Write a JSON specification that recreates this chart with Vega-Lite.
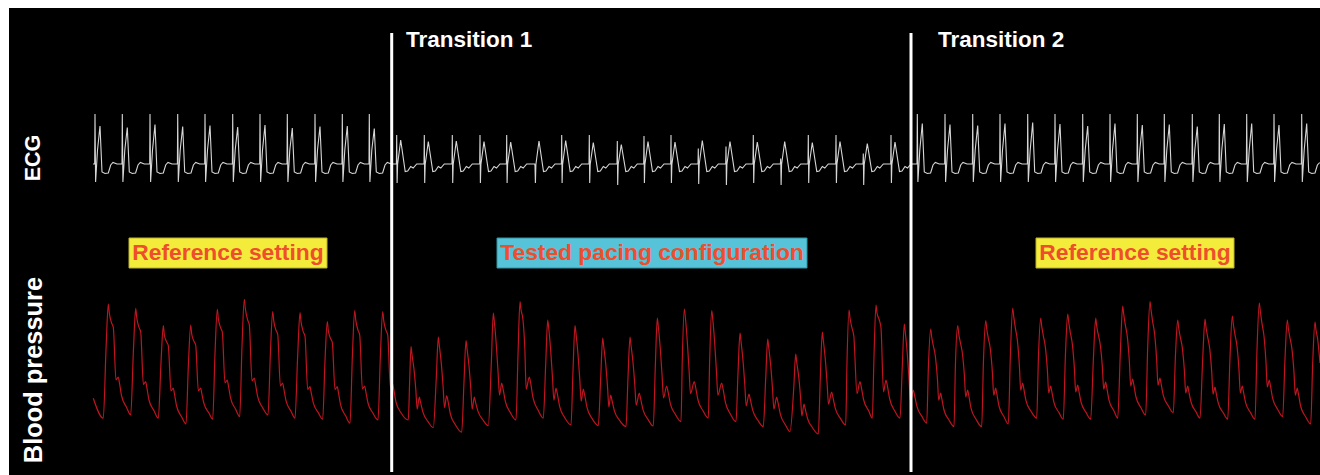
{
"$schema": "https://vega.github.io/schema/vega-lite/v6.json",
"width": 1311, "height": 467,
"autosize": {"type": "none"},
"padding": {"left": 9, "top": 8, "right": 0, "bottom": 0},
"background": "#ffffff",
"config": {"view": {"fill": "#000000", "stroke": null}, "text": {"font": "Liberation Sans"}},
"resolve": {"scale": {"y": "independent"}},
"layer": [
{
"data": {"values": [
{"t":930,"mV":-0.01},
{"t":947,"mV":-0.01},{"t":950,"mV":0.99},{"t":956,"mV":-0.37},{"t":975,"mV":0.27},{"t":1000,"mV":0.75},{"t":1020,"mV":-0.17},{"t":1050,"mV":-0.2},{"t":1083,"mV":-0.19},{"t":1107,"mV":-0.03},{"t":1130,"mV":0.02},{"t":1170,"mV":-0.01},
{"t":1220,"mV":-0.01},{"t":1223,"mV":0.99},{"t":1229,"mV":-0.37},{"t":1248,"mV":0.27},{"t":1273,"mV":0.72},{"t":1293,"mV":-0.17},{"t":1323,"mV":-0.2},{"t":1356,"mV":-0.19},{"t":1380,"mV":-0.03},{"t":1403,"mV":0.02},{"t":1443,"mV":-0.01},
{"t":1497,"mV":-0.01},{"t":1500,"mV":0.99},{"t":1506,"mV":-0.37},{"t":1525,"mV":0.27},{"t":1550,"mV":0.78},{"t":1570,"mV":-0.17},{"t":1600,"mV":-0.2},{"t":1633,"mV":-0.19},{"t":1657,"mV":-0.03},{"t":1680,"mV":0.02},{"t":1720,"mV":-0.01},
{"t":1774,"mV":-0.01},{"t":1777,"mV":0.99},{"t":1783,"mV":-0.37},{"t":1802,"mV":0.27},{"t":1827,"mV":0.74},{"t":1847,"mV":-0.17},{"t":1877,"mV":-0.2},{"t":1910,"mV":-0.19},{"t":1934,"mV":-0.03},{"t":1957,"mV":0.02},{"t":1997,"mV":-0.01},
{"t":2047,"mV":-0.01},{"t":2050,"mV":0.99},{"t":2056,"mV":-0.37},{"t":2075,"mV":0.27},{"t":2100,"mV":0.76},{"t":2120,"mV":-0.17},{"t":2150,"mV":-0.2},{"t":2183,"mV":-0.19},{"t":2207,"mV":-0.03},{"t":2230,"mV":0.02},{"t":2270,"mV":-0.01},
{"t":2324,"mV":-0.01},{"t":2327,"mV":0.99},{"t":2333,"mV":-0.37},{"t":2352,"mV":0.27},{"t":2377,"mV":0.73},{"t":2397,"mV":-0.17},{"t":2427,"mV":-0.2},{"t":2460,"mV":-0.19},{"t":2484,"mV":-0.03},{"t":2507,"mV":0.02},{"t":2547,"mV":-0.01},
{"t":2597,"mV":-0.01},{"t":2600,"mV":0.99},{"t":2606,"mV":-0.37},{"t":2625,"mV":0.27},{"t":2650,"mV":0.77},{"t":2670,"mV":-0.17},{"t":2700,"mV":-0.2},{"t":2733,"mV":-0.19},{"t":2757,"mV":-0.03},{"t":2780,"mV":0.02},{"t":2820,"mV":-0.01},
{"t":2870,"mV":-0.01},{"t":2873,"mV":0.99},{"t":2879,"mV":-0.37},{"t":2898,"mV":0.27},{"t":2923,"mV":0.71},{"t":2943,"mV":-0.17},{"t":2973,"mV":-0.2},{"t":3006,"mV":-0.19},{"t":3030,"mV":-0.03},{"t":3053,"mV":0.02},{"t":3093,"mV":-0.01},
{"t":3147,"mV":-0.01},{"t":3150,"mV":0.99},{"t":3156,"mV":-0.37},{"t":3175,"mV":0.27},{"t":3200,"mV":0.74},{"t":3220,"mV":-0.17},{"t":3250,"mV":-0.2},{"t":3283,"mV":-0.19},{"t":3307,"mV":-0.03},{"t":3330,"mV":0.02},{"t":3370,"mV":-0.01},
{"t":3420,"mV":-0.01},{"t":3423,"mV":0.99},{"t":3429,"mV":-0.37},{"t":3448,"mV":0.27},{"t":3473,"mV":0.75},{"t":3493,"mV":-0.17},{"t":3523,"mV":-0.2},{"t":3556,"mV":-0.19},{"t":3580,"mV":-0.03},{"t":3603,"mV":0.02},{"t":3643,"mV":-0.01},
{"t":3690,"mV":-0.01},{"t":3693,"mV":0.99},{"t":3699,"mV":-0.37},{"t":3718,"mV":0.27},{"t":3743,"mV":0.7},{"t":3763,"mV":-0.17},{"t":3793,"mV":-0.2},{"t":3826,"mV":-0.19},{"t":3850,"mV":-0.03},{"t":3873,"mV":0.02},{"t":3913,"mV":-0.01},
{"t":3964,"mV":-0.01},{"t":3967,"mV":0.57},{"t":3971,"mV":-0.39},{"t":3976,"mV":-0.02},{"t":4007,"mV":0.47},{"t":4052,"mV":-0.16},{"t":4077,"mV":-0.15},{"t":4107,"mV":-0.06},{"t":4132,"mV":-0.09},{"t":4167,"mV":-0.01},
{"t":4240,"mV":-0.01},{"t":4243,"mV":0.57},{"t":4247,"mV":-0.39},{"t":4252,"mV":-0.02},{"t":4283,"mV":0.44},{"t":4328,"mV":-0.16},{"t":4353,"mV":-0.15},{"t":4383,"mV":-0.06},{"t":4408,"mV":-0.09},{"t":4443,"mV":-0.01},
{"t":4520,"mV":-0.01},{"t":4523,"mV":0.57},{"t":4527,"mV":-0.39},{"t":4532,"mV":-0.02},{"t":4563,"mV":0.45},{"t":4608,"mV":-0.16},{"t":4633,"mV":-0.15},{"t":4663,"mV":-0.06},{"t":4688,"mV":-0.09},{"t":4723,"mV":-0.01},
{"t":4797,"mV":-0.01},{"t":4800,"mV":0.57},{"t":4804,"mV":-0.39},{"t":4809,"mV":-0.02},{"t":4840,"mV":0.44},{"t":4885,"mV":-0.16},{"t":4910,"mV":-0.15},{"t":4940,"mV":-0.06},{"t":4965,"mV":-0.09},{"t":5000,"mV":-0.01},
{"t":5064,"mV":-0.01},{"t":5067,"mV":0.57},{"t":5071,"mV":-0.39},{"t":5076,"mV":-0.02},{"t":5107,"mV":0.43},{"t":5152,"mV":-0.16},{"t":5177,"mV":-0.15},{"t":5207,"mV":-0.06},{"t":5232,"mV":-0.09},{"t":5267,"mV":-0.01},
{"t":5347,"mV":-0.01},{"t":5350,"mV":-0.05},{"t":5354,"mV":-0.39},{"t":5359,"mV":-0.02},{"t":5390,"mV":0.45},{"t":5435,"mV":-0.16},{"t":5460,"mV":-0.15},{"t":5490,"mV":-0.06},{"t":5515,"mV":-0.09},{"t":5550,"mV":-0.01},
{"t":5614,"mV":-0.01},{"t":5617,"mV":0.57},{"t":5621,"mV":-0.39},{"t":5626,"mV":-0.02},{"t":5657,"mV":0.46},{"t":5702,"mV":-0.16},{"t":5727,"mV":-0.15},{"t":5757,"mV":-0.06},{"t":5782,"mV":-0.09},{"t":5817,"mV":-0.01},
{"t":5890,"mV":-0.01},{"t":5893,"mV":0.57},{"t":5897,"mV":-0.39},{"t":5902,"mV":-0.02},{"t":5933,"mV":0.42},{"t":5978,"mV":-0.16},{"t":6003,"mV":-0.15},{"t":6033,"mV":-0.06},{"t":6058,"mV":-0.09},{"t":6093,"mV":-0.01},
{"t":6170,"mV":-0.01},{"t":6173,"mV":0.45},{"t":6177,"mV":-0.43},{"t":6182,"mV":-0.02},{"t":6213,"mV":0.38},{"t":6258,"mV":-0.16},{"t":6283,"mV":-0.15},{"t":6313,"mV":-0.06},{"t":6338,"mV":-0.09},{"t":6373,"mV":-0.01},
{"t":6437,"mV":-0.01},{"t":6440,"mV":0.55},{"t":6444,"mV":-0.39},{"t":6449,"mV":-0.02},{"t":6480,"mV":0.44},{"t":6525,"mV":-0.16},{"t":6550,"mV":-0.15},{"t":6580,"mV":-0.06},{"t":6605,"mV":-0.09},{"t":6640,"mV":-0.01},
{"t":6707,"mV":-0.01},{"t":6710,"mV":0.57},{"t":6714,"mV":-0.39},{"t":6719,"mV":-0.02},{"t":6750,"mV":0.43},{"t":6795,"mV":-0.16},{"t":6820,"mV":-0.15},{"t":6850,"mV":-0.06},{"t":6875,"mV":-0.09},{"t":6910,"mV":-0.01},
{"t":6980,"mV":-0.01},{"t":6983,"mV":0.3},{"t":6987,"mV":-0.41},{"t":6992,"mV":-0.02},{"t":7023,"mV":0.46},{"t":7068,"mV":-0.16},{"t":7093,"mV":-0.15},{"t":7123,"mV":-0.06},{"t":7148,"mV":-0.09},{"t":7183,"mV":-0.01},
{"t":7257,"mV":-0.01},{"t":7260,"mV":0.34},{"t":7264,"mV":-0.43},{"t":7269,"mV":-0.02},{"t":7300,"mV":0.44},{"t":7345,"mV":-0.16},{"t":7370,"mV":-0.15},{"t":7400,"mV":-0.06},{"t":7425,"mV":-0.09},{"t":7460,"mV":-0.01},
{"t":7530,"mV":-0.01},{"t":7533,"mV":0.57},{"t":7537,"mV":-0.39},{"t":7542,"mV":-0.02},{"t":7573,"mV":0.43},{"t":7618,"mV":-0.16},{"t":7643,"mV":-0.15},{"t":7673,"mV":-0.06},{"t":7698,"mV":-0.09},{"t":7733,"mV":-0.01},
{"t":7804,"mV":-0.01},{"t":7807,"mV":0.1},{"t":7811,"mV":-0.43},{"t":7816,"mV":-0.02},{"t":7847,"mV":0.44},{"t":7892,"mV":-0.16},{"t":7917,"mV":-0.15},{"t":7947,"mV":-0.06},{"t":7972,"mV":-0.09},{"t":8007,"mV":-0.01},
{"t":8080,"mV":-0.01},{"t":8083,"mV":0.57},{"t":8087,"mV":-0.39},{"t":8092,"mV":-0.02},{"t":8123,"mV":0.42},{"t":8168,"mV":-0.16},{"t":8193,"mV":-0.15},{"t":8223,"mV":-0.06},{"t":8248,"mV":-0.09},{"t":8283,"mV":-0.01},
{"t":8357,"mV":-0.01},{"t":8360,"mV":0.57},{"t":8364,"mV":-0.39},{"t":8369,"mV":-0.02},{"t":8400,"mV":0.44},{"t":8445,"mV":-0.16},{"t":8470,"mV":-0.15},{"t":8500,"mV":-0.06},{"t":8525,"mV":-0.09},{"t":8560,"mV":-0.01},
{"t":8630,"mV":-0.01},{"t":8633,"mV":0.2},{"t":8637,"mV":-0.43},{"t":8642,"mV":-0.02},{"t":8673,"mV":0.4},{"t":8718,"mV":-0.16},{"t":8743,"mV":-0.15},{"t":8773,"mV":-0.06},{"t":8798,"mV":-0.09},{"t":8833,"mV":-0.01},
{"t":8907,"mV":-0.01},{"t":8910,"mV":0.57},{"t":8914,"mV":-0.39},{"t":8919,"mV":-0.02},{"t":8950,"mV":0.43},{"t":8995,"mV":-0.16},{"t":9020,"mV":-0.15},{"t":9050,"mV":-0.06},{"t":9075,"mV":-0.09},{"t":9110,"mV":-0.01},
{"t":9170,"mV":-0.01},{"t":9173,"mV":0.99},{"t":9179,"mV":-0.37},{"t":9198,"mV":0.27},{"t":9223,"mV":0.8},{"t":9243,"mV":-0.17},{"t":9273,"mV":-0.2},{"t":9306,"mV":-0.19},{"t":9330,"mV":-0.03},{"t":9353,"mV":0.02},{"t":9393,"mV":-0.01},
{"t":9447,"mV":-0.01},{"t":9450,"mV":0.99},{"t":9456,"mV":-0.37},{"t":9475,"mV":0.27},{"t":9500,"mV":0.78},{"t":9520,"mV":-0.17},{"t":9550,"mV":-0.2},{"t":9583,"mV":-0.19},{"t":9607,"mV":-0.03},{"t":9630,"mV":0.02},{"t":9670,"mV":-0.01},
{"t":9724,"mV":-0.01},{"t":9727,"mV":0.99},{"t":9733,"mV":-0.37},{"t":9752,"mV":0.27},{"t":9777,"mV":0.76},{"t":9797,"mV":-0.17},{"t":9827,"mV":-0.2},{"t":9860,"mV":-0.19},{"t":9884,"mV":-0.03},{"t":9907,"mV":0.02},{"t":9947,"mV":-0.01},
{"t":9997,"mV":-0.01},{"t":10000,"mV":0.99},{"t":10006,"mV":-0.37},{"t":10025,"mV":0.27},{"t":10050,"mV":0.8},{"t":10070,"mV":-0.17},{"t":10100,"mV":-0.2},{"t":10133,"mV":-0.19},{"t":10157,"mV":-0.03},{"t":10180,"mV":0.02},{"t":10220,"mV":-0.01},
{"t":10274,"mV":-0.01},{"t":10277,"mV":0.99},{"t":10283,"mV":-0.37},{"t":10302,"mV":0.27},{"t":10327,"mV":0.82},{"t":10347,"mV":-0.17},{"t":10377,"mV":-0.2},{"t":10410,"mV":-0.19},{"t":10434,"mV":-0.03},{"t":10457,"mV":0.02},{"t":10497,"mV":-0.01},
{"t":10547,"mV":-0.01},{"t":10550,"mV":0.99},{"t":10556,"mV":-0.37},{"t":10575,"mV":0.27},{"t":10600,"mV":0.79},{"t":10620,"mV":-0.17},{"t":10650,"mV":-0.2},{"t":10683,"mV":-0.19},{"t":10707,"mV":-0.03},{"t":10730,"mV":0.02},{"t":10770,"mV":-0.01},
{"t":10824,"mV":-0.01},{"t":10827,"mV":0.99},{"t":10833,"mV":-0.37},{"t":10852,"mV":0.27},{"t":10877,"mV":0.75},{"t":10897,"mV":-0.17},{"t":10927,"mV":-0.2},{"t":10960,"mV":-0.19},{"t":10984,"mV":-0.03},{"t":11007,"mV":0.02},{"t":11047,"mV":-0.01},
{"t":11097,"mV":-0.01},{"t":11100,"mV":0.99},{"t":11106,"mV":-0.37},{"t":11125,"mV":0.27},{"t":11150,"mV":0.8},{"t":11170,"mV":-0.17},{"t":11200,"mV":-0.2},{"t":11233,"mV":-0.19},{"t":11257,"mV":-0.03},{"t":11280,"mV":0.02},{"t":11320,"mV":-0.01},
{"t":11370,"mV":-0.01},{"t":11373,"mV":0.99},{"t":11379,"mV":-0.37},{"t":11398,"mV":0.27},{"t":11423,"mV":0.77},{"t":11443,"mV":-0.17},{"t":11473,"mV":-0.2},{"t":11506,"mV":-0.19},{"t":11530,"mV":-0.03},{"t":11553,"mV":0.02},{"t":11593,"mV":-0.01},
{"t":11640,"mV":-0.01},{"t":11643,"mV":0.99},{"t":11649,"mV":-0.37},{"t":11668,"mV":0.27},{"t":11693,"mV":0.78},{"t":11713,"mV":-0.17},{"t":11743,"mV":-0.2},{"t":11776,"mV":-0.19},{"t":11800,"mV":-0.03},{"t":11823,"mV":0.02},{"t":11863,"mV":-0.01},
{"t":11920,"mV":-0.01},{"t":11923,"mV":0.99},{"t":11929,"mV":-0.37},{"t":11948,"mV":0.27},{"t":11973,"mV":0.74},{"t":11993,"mV":-0.17},{"t":12023,"mV":-0.2},{"t":12056,"mV":-0.19},{"t":12080,"mV":-0.03},{"t":12103,"mV":0.02},{"t":12143,"mV":-0.01},
{"t":12190,"mV":-0.01},{"t":12193,"mV":0.99},{"t":12199,"mV":-0.37},{"t":12218,"mV":0.27},{"t":12243,"mV":0.79},{"t":12263,"mV":-0.17},{"t":12293,"mV":-0.2},{"t":12326,"mV":-0.19},{"t":12350,"mV":-0.03},{"t":12373,"mV":0.02},{"t":12413,"mV":-0.01},
{"t":12464,"mV":-0.01},{"t":12467,"mV":0.99},{"t":12473,"mV":-0.37},{"t":12492,"mV":0.27},{"t":12517,"mV":0.8},{"t":12537,"mV":-0.17},{"t":12567,"mV":-0.2},{"t":12600,"mV":-0.19},{"t":12624,"mV":-0.03},{"t":12647,"mV":0.02},{"t":12687,"mV":-0.01},
{"t":12737,"mV":-0.01},{"t":12740,"mV":0.99},{"t":12746,"mV":-0.37},{"t":12765,"mV":0.27},{"t":12790,"mV":0.77},{"t":12810,"mV":-0.17},{"t":12840,"mV":-0.2},{"t":12873,"mV":-0.19},{"t":12897,"mV":-0.03},{"t":12920,"mV":0.02},{"t":12960,"mV":-0.01},
{"t":13014,"mV":-0.01},{"t":13017,"mV":0.99},{"t":13023,"mV":-0.37},{"t":13042,"mV":0.27},{"t":13067,"mV":0.8},{"t":13087,"mV":-0.17},{"t":13117,"mV":-0.2},{"t":13150,"mV":-0.19},{"t":13174,"mV":-0.03},{"t":13197,"mV":0.02}
]},
"mark": {"type": "line", "color": "#d6d6d6", "strokeWidth": 1.1, "interpolate": "linear"},
"encoding": {
"x": {"field": "t", "type": "quantitative", "scale": {"domain": [90, 13200], "nice": false, "zero": false}, "axis": null},
"y": {"field": "mV", "type": "quantitative", "scale": {"domain": [-6.23, 3.11], "nice": false, "zero": false}, "axis": null}
}
},
{
"layer": [
{
"data": {"values": [
{"t":933,"mmHg":70.9},{"t":1033,"mmHg":60.9},
{"t":1060,"mmHg":95.2},{"t":1083,"mmHg":118},{"t":1093,"mmHg":113.5},{"t":1116,"mmHg":108.5},{"t":1133,"mmHg":106.3},{"t":1160,"mmHg":80},{"t":1183,"mmHg":81.5},{"t":1193,"mmHg":79},{"t":1216,"mmHg":72},{"t":1266,"mmHg":66.3},{"t":1307,"mmHg":62.5},
{"t":1334,"mmHg":94.5},{"t":1357,"mmHg":115.8},{"t":1367,"mmHg":111.3},{"t":1390,"mmHg":106.3},{"t":1407,"mmHg":104.1},{"t":1434,"mmHg":77.7},{"t":1457,"mmHg":79.2},{"t":1467,"mmHg":76.7},{"t":1490,"mmHg":70},{"t":1540,"mmHg":64.6},{"t":1583,"mmHg":60.9},
{"t":1610,"mmHg":88.7},{"t":1633,"mmHg":107.2},{"t":1643,"mmHg":102.7},{"t":1666,"mmHg":99.1},{"t":1683,"mmHg":97.2},{"t":1710,"mmHg":74.5},{"t":1733,"mmHg":76},{"t":1743,"mmHg":73.5},{"t":1766,"mmHg":67},{"t":1816,"mmHg":61.6},{"t":1860,"mmHg":58},
{"t":1884,"mmHg":87.7},{"t":1907,"mmHg":107.5},{"t":1917,"mmHg":103},{"t":1940,"mmHg":99.3},{"t":1957,"mmHg":97.4},{"t":1984,"mmHg":74.5},{"t":2007,"mmHg":76},{"t":2017,"mmHg":73.5},{"t":2040,"mmHg":68.2},{"t":2090,"mmHg":63.5},{"t":2127,"mmHg":60.4},
{"t":2150,"mmHg":93.3},{"t":2173,"mmHg":115.3},{"t":2183,"mmHg":110.8},{"t":2206,"mmHg":106.1},{"t":2223,"mmHg":104},{"t":2250,"mmHg":78.5},{"t":2273,"mmHg":80},{"t":2283,"mmHg":77.5},{"t":2306,"mmHg":70.9},{"t":2356,"mmHg":65.4},{"t":2397,"mmHg":61.7},
{"t":2420,"mmHg":96.9},{"t":2443,"mmHg":120.3},{"t":2453,"mmHg":115.8},{"t":2476,"mmHg":110.1},{"t":2493,"mmHg":107.7},{"t":2520,"mmHg":79.5},{"t":2543,"mmHg":81},{"t":2553,"mmHg":78.5},{"t":2576,"mmHg":71.8},{"t":2626,"mmHg":66.2},{"t":2680,"mmHg":62.5},
{"t":2704,"mmHg":93.5},{"t":2727,"mmHg":114.2},{"t":2737,"mmHg":109.7},{"t":2760,"mmHg":104.9},{"t":2777,"mmHg":102.8},{"t":2804,"mmHg":77},{"t":2827,"mmHg":78.5},{"t":2837,"mmHg":76},{"t":2860,"mmHg":69.7},{"t":2910,"mmHg":64.4},{"t":2950,"mmHg":60.9},
{"t":2977,"mmHg":92.6},{"t":3000,"mmHg":113.7},{"t":3010,"mmHg":109.2},{"t":3033,"mmHg":104.1},{"t":3050,"mmHg":101.9},{"t":3077,"mmHg":75.2},{"t":3100,"mmHg":76.7},{"t":3110,"mmHg":74.2},{"t":3133,"mmHg":68.6},{"t":3183,"mmHg":63.7},{"t":3227,"mmHg":60.4},
{"t":3250,"mmHg":89.7},{"t":3273,"mmHg":109.2},{"t":3283,"mmHg":104.7},{"t":3306,"mmHg":100.7},{"t":3323,"mmHg":98.8},{"t":3350,"mmHg":75.2},{"t":3373,"mmHg":76.7},{"t":3383,"mmHg":74.2},{"t":3406,"mmHg":67.6},{"t":3456,"mmHg":62.1},{"t":3500,"mmHg":58.4},
{"t":3524,"mmHg":92.2},{"t":3547,"mmHg":114.7},{"t":3557,"mmHg":110.2},{"t":3580,"mmHg":104.9},{"t":3597,"mmHg":102.6},{"t":3624,"mmHg":75.5},{"t":3647,"mmHg":77},{"t":3657,"mmHg":74.5},{"t":3680,"mmHg":68.5},{"t":3730,"mmHg":63.4},{"t":3780,"mmHg":60},
{"t":3804,"mmHg":92.5},{"t":3827,"mmHg":114.2},{"t":3837,"mmHg":109.7},{"t":3860,"mmHg":104.8},{"t":3877,"mmHg":102.6},{"t":3904,"mmHg":76.5},{"t":3927,"mmHg":78},{"t":3937,"mmHg":75.5},{"t":3960,"mmHg":69},{"t":4010,"mmHg":63.6},{"t":4083,"mmHg":60},
{"t":4097,"mmHg":80.2},{"t":4110,"mmHg":96.7},{"t":4120,"mmHg":92.7},{"t":4140,"mmHg":85.3},{"t":4158,"mmHg":75.2},{"t":4172,"mmHg":65.4},{"t":4193,"mmHg":71.4},{"t":4205,"mmHg":68.9},{"t":4230,"mmHg":63.8},{"t":4280,"mmHg":59.2},{"t":4333,"mmHg":56.2},
{"t":4363,"mmHg":81.1},{"t":4383,"mmHg":101.4},{"t":4393,"mmHg":97.4},{"t":4413,"mmHg":88.3},{"t":4431,"mmHg":76.6},{"t":4445,"mmHg":66.2},{"t":4467,"mmHg":72.2},{"t":4479,"mmHg":69.7},{"t":4504,"mmHg":63},{"t":4554,"mmHg":57.6},{"t":4617,"mmHg":53.9},
{"t":4640,"mmHg":79.1},{"t":4660,"mmHg":99.7},{"t":4670,"mmHg":95.7},{"t":4690,"mmHg":87},{"t":4708,"mmHg":75.6},{"t":4722,"mmHg":65.4},{"t":4743,"mmHg":71.4},{"t":4755,"mmHg":68.9},{"t":4780,"mmHg":64.3},{"t":4830,"mmHg":60},{"t":4883,"mmHg":57.2},
{"t":4913,"mmHg":88.1},{"t":4933,"mmHg":113.4},{"t":4943,"mmHg":109.4},{"t":4963,"mmHg":97.6},{"t":4981,"mmHg":83.6},{"t":4995,"mmHg":72.4},{"t":5017,"mmHg":78.4},{"t":5029,"mmHg":75.9},{"t":5054,"mmHg":69.2},{"t":5104,"mmHg":63.7},{"t":5160,"mmHg":60},
{"t":5180,"mmHg":92.6},{"t":5200,"mmHg":119.2},{"t":5210,"mmHg":115.2},{"t":5230,"mmHg":110},{"t":5248,"mmHg":96},{"t":5262,"mmHg":75.4},{"t":5293,"mmHg":81.4},{"t":5305,"mmHg":78.9},{"t":5330,"mmHg":71.2},{"t":5380,"mmHg":65},{"t":5433,"mmHg":60.9},
{"t":5457,"mmHg":87.9},{"t":5477,"mmHg":110},{"t":5487,"mmHg":106},{"t":5507,"mmHg":94.7},{"t":5525,"mmHg":81},{"t":5539,"mmHg":69.9},{"t":5560,"mmHg":75.9},{"t":5572,"mmHg":73.4},{"t":5597,"mmHg":66.7},{"t":5647,"mmHg":61.2},{"t":5710,"mmHg":57.5},
{"t":5730,"mmHg":84.8},{"t":5750,"mmHg":107.2},{"t":5760,"mmHg":103.2},{"t":5780,"mmHg":92.9},{"t":5798,"mmHg":80.2},{"t":5812,"mmHg":69.4},{"t":5833,"mmHg":75.4},{"t":5845,"mmHg":72.9},{"t":5870,"mmHg":66.3},{"t":5920,"mmHg":60.8},{"t":5983,"mmHg":57.2},
{"t":6007,"mmHg":81.2},{"t":6027,"mmHg":100.9},{"t":6037,"mmHg":96.9},{"t":6057,"mmHg":88.1},{"t":6075,"mmHg":76.8},{"t":6089,"mmHg":66.5},{"t":6107,"mmHg":72.5},{"t":6119,"mmHg":70},{"t":6144,"mmHg":64.6},{"t":6194,"mmHg":59.9},{"t":6260,"mmHg":56.7},
{"t":6280,"mmHg":81.3},{"t":6300,"mmHg":101.4},{"t":6310,"mmHg":97.4},{"t":6330,"mmHg":88.8},{"t":6348,"mmHg":77.6},{"t":6362,"mmHg":67.4},{"t":6393,"mmHg":73.4},{"t":6405,"mmHg":70.9},{"t":6430,"mmHg":65.2},{"t":6480,"mmHg":60.3},{"t":6533,"mmHg":57},
{"t":6553,"mmHg":86.6},{"t":6573,"mmHg":110.9},{"t":6583,"mmHg":106.9},{"t":6603,"mmHg":95.6},{"t":6621,"mmHg":82.1},{"t":6635,"mmHg":71},{"t":6667,"mmHg":77},{"t":6679,"mmHg":74.5},{"t":6704,"mmHg":68.1},{"t":6754,"mmHg":62.8},{"t":6810,"mmHg":59.2},
{"t":6823,"mmHg":90.2},{"t":6843,"mmHg":115.5},{"t":6853,"mmHg":111.5},{"t":6873,"mmHg":99.2},{"t":6891,"mmHg":84.6},{"t":6905,"mmHg":73.2},{"t":6943,"mmHg":79.2},{"t":6955,"mmHg":76.7},{"t":6980,"mmHg":70},{"t":7030,"mmHg":64.6},{"t":7083,"mmHg":60.9},
{"t":7097,"mmHg":90.5},{"t":7117,"mmHg":114.7},{"t":7127,"mmHg":110.7},{"t":7147,"mmHg":98.4},{"t":7165,"mmHg":83.8},{"t":7179,"mmHg":72.4},{"t":7217,"mmHg":78.4},{"t":7229,"mmHg":75.9},{"t":7254,"mmHg":68.8},{"t":7304,"mmHg":63},{"t":7360,"mmHg":59.2},
{"t":7380,"mmHg":83.5},{"t":7400,"mmHg":103.4},{"t":7410,"mmHg":99.4},{"t":7430,"mmHg":89.7},{"t":7448,"mmHg":77.6},{"t":7462,"mmHg":67},{"t":7490,"mmHg":73},{"t":7502,"mmHg":70.5},{"t":7527,"mmHg":64.9},{"t":7577,"mmHg":60},{"t":7633,"mmHg":56.7},
{"t":7657,"mmHg":80.7},{"t":7677,"mmHg":100.4},{"t":7687,"mmHg":96.4},{"t":7707,"mmHg":87.3},{"t":7725,"mmHg":75.7},{"t":7739,"mmHg":65.4},{"t":7767,"mmHg":71.4},{"t":7779,"mmHg":68.9},{"t":7804,"mmHg":62.8},{"t":7854,"mmHg":57.6},{"t":7900,"mmHg":54.2},
{"t":7937,"mmHg":75.5},{"t":7957,"mmHg":93},{"t":7967,"mmHg":89},{"t":7987,"mmHg":81.7},{"t":8005,"mmHg":71.7},{"t":8019,"mmHg":62},{"t":8040,"mmHg":68},{"t":8052,"mmHg":65.5},{"t":8077,"mmHg":60.5},{"t":8127,"mmHg":56},{"t":8183,"mmHg":53},
{"t":8203,"mmHg":81},{"t":8223,"mmHg":103.9},{"t":8233,"mmHg":99.9},{"t":8253,"mmHg":90.4},{"t":8271,"mmHg":78.4},{"t":8285,"mmHg":67.9},{"t":8317,"mmHg":73.9},{"t":8329,"mmHg":71.4},{"t":8354,"mmHg":65.7},{"t":8404,"mmHg":60.8},{"t":8457,"mmHg":57.5},
{"t":8470,"mmHg":89.1},{"t":8490,"mmHg":115},{"t":8500,"mmHg":111},{"t":8520,"mmHg":106},{"t":8538,"mmHg":102},{"t":8570,"mmHg":73.2},{"t":8600,"mmHg":79.2},{"t":8612,"mmHg":76.7},{"t":8637,"mmHg":70},{"t":8687,"mmHg":64.6},{"t":8723,"mmHg":60.9},
{"t":8740,"mmHg":92},{"t":8760,"mmHg":117.5},{"t":8770,"mmHg":113.5},{"t":8793,"mmHg":110},{"t":8810,"mmHg":106},{"t":8835,"mmHg":74},{"t":8860,"mmHg":80},{"t":8872,"mmHg":77.5},{"t":8897,"mmHg":70.5},{"t":8947,"mmHg":64.6},{"t":9000,"mmHg":60.9},
{"t":9023,"mmHg":86.8},{"t":9043,"mmHg":107.9},{"t":9053,"mmHg":103.9},{"t":9073,"mmHg":93.1},{"t":9091,"mmHg":79.9},{"t":9105,"mmHg":69},{"t":9133,"mmHg":75},{"t":9145,"mmHg":72.5},{"t":9170,"mmHg":66.7},{"t":9220,"mmHg":61.7},{"t":9267,"mmHg":58.4},
{"t":9284,"mmHg":86.7},{"t":9307,"mmHg":105.5},{"t":9317,"mmHg":101.5},{"t":9332,"mmHg":97.5},{"t":9354,"mmHg":91.7},{"t":9374,"mmHg":80.8},{"t":9387,"mmHg":69.9},{"t":9407,"mmHg":73.4},{"t":9417,"mmHg":70.9},{"t":9440,"mmHg":65},{"t":9490,"mmHg":60},{"t":9540,"mmHg":56.7},
{"t":9554,"mmHg":87},{"t":9577,"mmHg":107.2},{"t":9587,"mmHg":103.2},{"t":9602,"mmHg":99.2},{"t":9624,"mmHg":93.4},{"t":9644,"mmHg":82.4},{"t":9657,"mmHg":71.5},{"t":9677,"mmHg":75},{"t":9687,"mmHg":72.5},{"t":9710,"mmHg":65.9},{"t":9760,"mmHg":60.4},{"t":9817,"mmHg":56.7},
{"t":9834,"mmHg":88.5},{"t":9857,"mmHg":109.7},{"t":9867,"mmHg":105.7},{"t":9882,"mmHg":101.2},{"t":9904,"mmHg":95.2},{"t":9924,"mmHg":83.7},{"t":9937,"mmHg":72.4},{"t":9957,"mmHg":75.9},{"t":9967,"mmHg":73.4},{"t":9990,"mmHg":67},{"t":10040,"mmHg":61.6},{"t":10083,"mmHg":58},
{"t":10104,"mmHg":92.7},{"t":10127,"mmHg":115.8},{"t":10137,"mmHg":111.8},{"t":10152,"mmHg":106.4},{"t":10174,"mmHg":99.7},{"t":10194,"mmHg":87},{"t":10207,"mmHg":74.9},{"t":10227,"mmHg":78.4},{"t":10237,"mmHg":75.9},{"t":10260,"mmHg":69.7},{"t":10310,"mmHg":64.4},{"t":10367,"mmHg":60.9},
{"t":10384,"mmHg":90.9},{"t":10407,"mmHg":110.9},{"t":10417,"mmHg":106.9},{"t":10432,"mmHg":102.4},{"t":10454,"mmHg":96.3},{"t":10474,"mmHg":84.8},{"t":10487,"mmHg":73.5},{"t":10507,"mmHg":77},{"t":10517,"mmHg":74.5},{"t":10540,"mmHg":68.7},{"t":10590,"mmHg":63.7},{"t":10633,"mmHg":60.4},
{"t":10654,"mmHg":92},{"t":10677,"mmHg":113},{"t":10687,"mmHg":109},{"t":10702,"mmHg":104.1},{"t":10724,"mmHg":97.7},{"t":10744,"mmHg":85.7},{"t":10757,"mmHg":74},{"t":10777,"mmHg":77.5},{"t":10787,"mmHg":75},{"t":10810,"mmHg":69},{"t":10860,"mmHg":63.8},{"t":10907,"mmHg":60.4},
{"t":10934,"mmHg":90.7},{"t":10957,"mmHg":110.9},{"t":10967,"mmHg":106.9},{"t":10982,"mmHg":102.9},{"t":11004,"mmHg":97.1},{"t":11024,"mmHg":86.3},{"t":11037,"mmHg":75.4},{"t":11057,"mmHg":78.9},{"t":11067,"mmHg":76.4},{"t":11090,"mmHg":69.9},{"t":11140,"mmHg":64.5},{"t":11177,"mmHg":60.9},
{"t":11204,"mmHg":94.6},{"t":11227,"mmHg":117},{"t":11237,"mmHg":113},{"t":11252,"mmHg":107.9},{"t":11274,"mmHg":101.3},{"t":11294,"mmHg":88.9},{"t":11307,"mmHg":77},{"t":11327,"mmHg":80.5},{"t":11337,"mmHg":78},{"t":11360,"mmHg":71.5},{"t":11410,"mmHg":66.1},{"t":11457,"mmHg":62.5},
{"t":11477,"mmHg":96.5},{"t":11500,"mmHg":119.2},{"t":11510,"mmHg":115.2},{"t":11525,"mmHg":109.6},{"t":11547,"mmHg":102.7},{"t":11567,"mmHg":89.7},{"t":11580,"mmHg":77.4},{"t":11600,"mmHg":80.9},{"t":11610,"mmHg":78.4},{"t":11633,"mmHg":72.3},{"t":11683,"mmHg":67.1},{"t":11733,"mmHg":63.7},
{"t":11754,"mmHg":91.5},{"t":11777,"mmHg":110},{"t":11787,"mmHg":106},{"t":11802,"mmHg":101.7},{"t":11824,"mmHg":95.8},{"t":11844,"mmHg":84.6},{"t":11857,"mmHg":73.5},{"t":11877,"mmHg":77},{"t":11887,"mmHg":74.5},{"t":11910,"mmHg":69},{"t":11960,"mmHg":64.1},{"t":12000,"mmHg":60.9},
{"t":12027,"mmHg":90.6},{"t":12050,"mmHg":110.4},{"t":12060,"mmHg":106.4},{"t":12075,"mmHg":101.9},{"t":12097,"mmHg":95.8},{"t":12117,"mmHg":84.2},{"t":12130,"mmHg":72.9},{"t":12150,"mmHg":76.4},{"t":12160,"mmHg":73.9},{"t":12183,"mmHg":68.4},{"t":12233,"mmHg":63.6},{"t":12277,"mmHg":60.4},
{"t":12300,"mmHg":91.4},{"t":12323,"mmHg":112},{"t":12333,"mmHg":108},{"t":12348,"mmHg":103.2},{"t":12370,"mmHg":96.9},{"t":12390,"mmHg":85},{"t":12403,"mmHg":73.5},{"t":12423,"mmHg":77},{"t":12433,"mmHg":74.5},{"t":12456,"mmHg":68.7},{"t":12506,"mmHg":63.7},{"t":12550,"mmHg":60.4},
{"t":12570,"mmHg":95.2},{"t":12593,"mmHg":118.4},{"t":12603,"mmHg":114.4},{"t":12618,"mmHg":108.8},{"t":12640,"mmHg":101.9},{"t":12660,"mmHg":88.8},{"t":12673,"mmHg":76.5},{"t":12693,"mmHg":80},{"t":12703,"mmHg":77.5},{"t":12726,"mmHg":70.9},{"t":12776,"mmHg":65.4},{"t":12827,"mmHg":61.7},
{"t":12850,"mmHg":90.7},{"t":12873,"mmHg":110},{"t":12883,"mmHg":106},{"t":12898,"mmHg":101.5},{"t":12920,"mmHg":95.3},{"t":12940,"mmHg":83.7},{"t":12953,"mmHg":72.4},{"t":12973,"mmHg":75.9},{"t":12983,"mmHg":73.4},{"t":13006,"mmHg":67},{"t":13056,"mmHg":61.6},{"t":13107,"mmHg":58},
{"t":13127,"mmHg":88.5},{"t":13150,"mmHg":108.9},{"t":13160,"mmHg":104.9},{"t":13175,"mmHg":101},{"t":13200,"mmHg":88.5}
]},
"mark": {"type": "line", "color": "#bf1520", "strokeWidth": 1.2, "interpolate": "monotone"},
"encoding": {
"x": {"field": "t", "type": "quantitative", "scale": {"domain": [90, 13200], "nice": false, "zero": false}, "axis": null},
"y": {"field": "mmHg", "type": "quantitative", "scale": {"domain": [32.5, 266], "nice": false, "zero": false}, "axis": null}
}
},
{
"data": {"values": [
{"t": 3917, "label_t": 4060, "name": "Transition 1"},
{"t": 9110, "label_t": 9380, "name": "Transition 2"}
]},
"layer": [
{
"mark": {"type": "rule", "color": "#ffffff", "strokeWidth": 3},
"encoding": {
"x": {"field": "t", "type": "quantitative", "scale": {"domain": [90, 13200], "nice": false, "zero": false}, "axis": null},
"y": {"datum": 253.5, "type": "quantitative", "scale": {"domain": [32.5, 266], "nice": false, "zero": false}, "axis": null},
"y2": {"datum": 34}
}
},
{
"mark": {"type": "text", "color": "#ffffff", "fontSize": 22.5, "fontWeight": "bold", "align": "left", "baseline": "middle"},
"encoding": {
"x": {"field": "label_t", "type": "quantitative"},
"y": {"datum": 250, "type": "quantitative"},
"text": {"field": "name"}
}
}
]
},
{
"data": {"values": [
{"start": 1290, "end": 3270, "label_t": 2280, "phase": "Reference setting"},
{"start": 4970, "end": 8070, "label_t": 6520, "phase": "Tested pacing configuration"},
{"start": 10360, "end": 12340, "label_t": 11350, "phase": "Reference setting"}
]},
"layer": [
{
"mark": {"type": "rect", "strokeWidth": 1},
"encoding": {
"x": {"field": "start", "type": "quantitative"},
"x2": {"field": "end"},
"y": {"datum": 151, "type": "quantitative"},
"y2": {"datum": 136},
"fill": {"field": "phase", "type": "nominal", "legend": null, "scale": {"domain": ["Reference setting", "Tested pacing configuration"], "range": ["#f4ec3b", "#57c3d8"]}},
"stroke": {"field": "phase", "type": "nominal", "legend": null, "scale": {"domain": ["Reference setting", "Tested pacing configuration"], "range": ["#b9b22c", "#2f93a3"]}}
}
},
{
"mark": {"type": "text", "color": "#ee4e2c", "fontSize": 22.8, "fontWeight": "bold", "align": "center", "baseline": "middle"},
"encoding": {
"x": {"field": "label_t", "type": "quantitative"},
"y": {"datum": 143.5, "type": "quantitative"},
"text": {"field": "phase"}
}
}
]
},
{
"data": {"values": [
{"trace": "ECG", "label_level": 191, "size": 21.5},
{"trace": "Blood pressure", "label_level": 85, "size": 25.4}
]},
"mark": {"type": "text", "color": "#ffffff", "fontWeight": "bold", "angle": 270, "align": "center", "baseline": "middle"},
"encoding": {
"x": {"datum": 340, "type": "quantitative"},
"y": {"field": "label_level", "type": "quantitative"},
"text": {"field": "trace"},
"size": {"field": "size", "type": "quantitative", "scale": null, "legend": null}
}
}
]
}
]
}
